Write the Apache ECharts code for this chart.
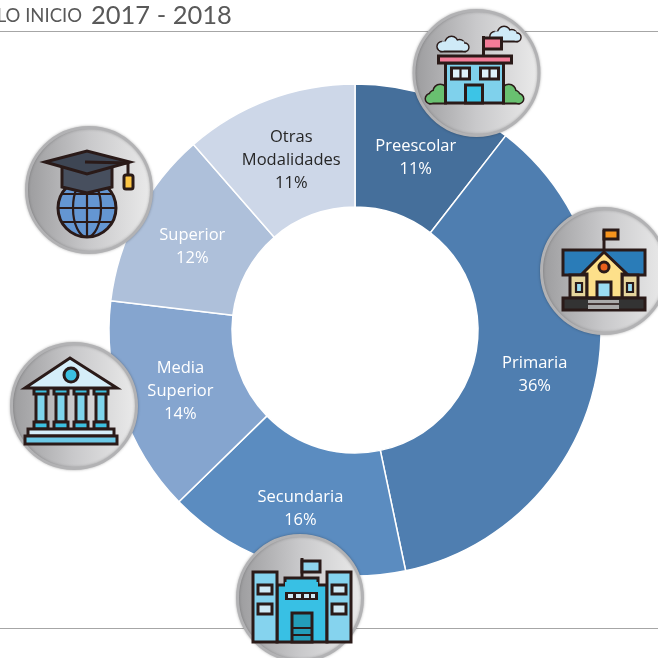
<!DOCTYPE html>
<html><head><meta charset="utf-8">
<style>html,body{margin:0;padding:0;background:#fff;overflow:hidden}#c{width:658px;height:658px}</style>
<script src="https://cdn.jsdelivr.net/npm/echarts@6/dist/echarts.min.js"></script>
</head><body><div id="c"></div>
<script>
const categories = ['Preescolar','Primaria','Secundaria','Media\nSuperior','Superior','Otras\nModalidades'];
const values = [10.5,36.2,16,14.2,11.7,11.4];
const shownPercent = [11,36,16,14,12,11];
const colors = ['#456f9b','#4f7eb0','#5b8cc0','#85a5cf','#aec0da','#cdd7e8'];
const labelColors = ['#fff','#fff','#fff','#fff','#fff','#262626'];
const labelNudges = [[0,5.5],[-3,3],[0,-1],[3,1],[3,5],[2,6]];
const titleSmall = 'LO INICIO';
const titleYears = '2017 - 2018';

const INK = '#2a1a18';
const st = (fill, lw) => ({fill: fill, stroke: lw === 0 ? null : INK, lineWidth: lw === undefined ? 3 : lw});
const R = (x0,y0,x1,y1,fill,lw) => ({type:'rect',shape:{x:x0,y:y0,width:x1-x0,height:y1-y0},style:st(fill,lw)});
const P = (pts,fill,lw) => ({type:'polygon',shape:{points:pts},style:st(fill,lw)});
const C = (x,y,r,fill,lw) => ({type:'circle',shape:{cx:x,cy:y,r:r},style:st(fill,lw)});
const L = (x0,y0,x1,y1,lw) => ({type:'line',shape:{x1:x0,y1:y0,x2:x1,y2:y1},style:{stroke:INK,lineWidth:lw||3}});
const PL = (pts,lw) => ({type:'polyline',shape:{points:pts},style:{stroke:INK,lineWidth:lw||3,fill:null}});
// blob: outlined circles and a base rect, then the same shapes unstroked on top, so the outline merges
const blob = (circles, base, fill) => [
  ...circles.map(c => C(c[0],c[1],c[2],fill)),
  R(base[0],base[1],base[2],base[3],fill),
  ...circles.map(c => C(c[0],c[1],c[2],fill,0)),
  R(base[0]+.5,base[1]-4,base[2]-.5,base[3]-.5,fill,0)
];
const cloud = (x,y,w,h,fill) => blob([
  [x+.17*w,y+.68*h,.3*h],[x+.47*w,y+.42*h,.42*h],[x+.72*w,y+.58*h,.34*h],[x+.88*w,y+.74*h,.25*h]
],[x+.15*w,y+.6*h,x+.88*w,y+h],fill);
const bushL = (x,y,w,h) => blob([
  [x+.72*w,y+.36*h,.36*h],[x+.42*w,y+.62*h,.28*h],[x+.2*w,y+.76*h,.24*h]
],[x+.2*w,y+.7*h,x+w,y+h],'#69c070');
const bushR = (x,y,w,h) => blob([
  [x+.28*w,y+.36*h,.36*h],[x+.58*w,y+.62*h,.28*h],[x+.8*w,y+.76*h,.24*h]
],[x,y+.7*h,x+.8*w,y+h],'#69c070');

const preescolar = [
  ...cloud(-40,-36,32,14,'#cfeaf7'), ...cloud(13,-46,31,14,'#cfeaf7'),
  ...bushL(-50,12,19,18), ...bushR(27,12,19,18),
  R(-31,-10,27,30,'#7fd1ec'),
  R(-38,-17,35,-10,'#f47c98'),
  L(7,-37,7,-17), R(7,-35,25,-24,'#f47c98'),
  R(-25,-5,-7,6,'#dff1f9'), L(-16,-5,-16,6,2.2), R(4,-5,22,6,'#dff1f9'), L(13,-5,13,6,2.2),
  R(-11,12,6,30,'#3cc4e6')
];
const primaria = [
  L(0,-41,0,-19), R(0,-41,14,-32,'#f7941d'),
  R(-41,-21,41,4,'#2a7cb8'),
  R(-34,4,-17,27,'#e6d59c'), R(18,4,34,27,'#e6d59c'),
  P([[0,-19],[23,3],[18,3],[18,27],[-17,27],[-17,3],[-22,3]],'#fde08a'),
  C(0,-4,5,'#e8601c'),
  R(-28,12,-22,21,'#9adcf2',2.2), R(23,12,29,21,'#9adcf2',2.2),
  R(-7,11,7,27,'#9adcf2'),
  R(-41,27,41,39,'#333333'),
  R(-16,29,15,38,'#aaaaaa',0), L(-16,33,15,33,1.6)
];
const superior = [
  C(-2,18,29,'#6496d2',3),
  {type:'ellipse',shape:{cx:-2,cy:18,rx:14,ry:29},style:{fill:null,stroke:INK,lineWidth:2.2}},
  L(-2,-11,-2,47,2.2), L(-31,18,27,18,2.2), L(-27,4,23,4,2.2), L(-27,32,23,32,2.2),
  P([[-27,-25],[-27,-3],[-2,3],[23,-3],[23,-25]],'#474f5e'),
  P([[-44,-28],[-2,-39],[41,-28],[-2,-16]],'#3e4654'),
  PL([[-4,-28],[39,-27],[39,-15]]),
  {type:'rect',shape:{x:35,y:-15,width:9,height:14,r:2},style:st('#fdc645')}
];
const columnXs = [-33,-13,7,27];
const media = [
  P([[-49,-18],[-4,-48],[43,-18]],'#d5eef9'),
  C(-3,-31,7,'#3cc0e0'),
  ...columnXs.flatMap(x => [
    R(x-5,-14,x+5,16,'#7fd4ec'),
    R(x-7,-17,x+7,-12,'#3cc0e0'),
    R(x-7,16,x+7,23,'#3cc0e0')
  ]),
  R(-46,23,40,30,'#d5eef9'),
  R(-49,30,43,38,'#6cc9e6')
];
const secundaria = [
  L(2,-40,2,-20), R(2,-37,20,-26,'#8fd3ec'),
  R(-15,-20,18,-10,'#38c0e4'),
  R(-23,-13,27,44,'#38c0e4'),
  R(-15,-16,18,-9,'#38c0e4',0),
  R(-47,-26,-23,44,'#85d3ee'), R(27,-26,51,44,'#85d3ee'),
  R(-42,-13,-28,-4,'#cfe9f4'), R(-42,6,-28,16,'#cfe9f4'),
  R(32,-13,46,-4,'#cfe9f4'), R(32,6,46,16,'#cfe9f4'),
  R(-15,-6,18,2,'#2a1a18',0),
  R(-12,-4,-7,0,'#cfe9f4',0), R(-4,-4,1,0,'#cfe9f4',0), R(4,-4,9,0,'#cfe9f4',0), R(11,-4,15,0,'#cfe9f4',0),
  R(-8,15,12,44,'#239db8'), L(-8,30,12,30,2), L(-8,37,12,37,2)
];

const badge = (cx,cy,parts) => ({type:'group',x:cx,y:cy,children:[
  {type:'circle',shape:{cx:0,cy:0,r:62.5},style:{
    fill:{type:'linear',x:0,y:0,x2:1,y2:0,colorStops:[{offset:0,color:'#9b9b9d'},{offset:.5,color:'#c9c9cb'},{offset:1,color:'#ebebeb'}]},
    stroke:'#b2b2b4',lineWidth:3,shadowBlur:3,shadowColor:'rgba(0,0,0,.25)'}},
  ...parts
].map((el,i)=>Object.assign(el,{z:10,z2:i}))});

const chart = echarts.init(document.getElementById('c'));
chart.setOption({
  animation:false,
  backgroundColor:'#fff',
  series:[{
    type:'pie',
    center:[355,330],
    radius:[123,246],
    startAngle:90,
    clockwise:true,
    z:2,
    data:categories.map((n,i)=>({
      name:n,value:values[i],
      itemStyle:{color:colors[i]},
      label:{color:labelColors[i],offset:labelNudges[i],formatter:n+'\n'+shownPercent[i]+'%'}
    })),
    itemStyle:{borderColor:'#fff',borderWidth:1.5},
    label:{position:'inside',fontFamily:'"Open Sans"',fontSize:16.5,lineHeight:23},
    labelLine:{show:false}
  }],
  graphic:[
    {type:'line',z:0,shape:{x1:0,y1:31.5,x2:658,y2:31.5},style:{stroke:'#a6a6a6',lineWidth:1.2}},
    {type:'line',z:0,shape:{x1:0,y1:628.5,x2:658,y2:628.5},style:{stroke:'#a6a6a6',lineWidth:1.2}},
    {type:'text',z:5,x:82,y:26,style:{text:titleSmall,textAlign:'right',textVerticalAlign:'bottom',fill:'#595959',fontFamily:'Lato',fontSize:18.5,fontWeight:400}},
    {type:'text',z:5,x:91,y:29,style:{text:titleYears,textAlign:'left',textVerticalAlign:'bottom',fill:'#595959',fontFamily:'Lato',fontSize:25.5,fontWeight:400}},
    badge(476.5,73,preescolar),
    badge(604,271,primaria),
    badge(89,190,superior),
    badge(74,406,media),
    badge(300,598,secundaria)
  ]
});
</script></body></html>
